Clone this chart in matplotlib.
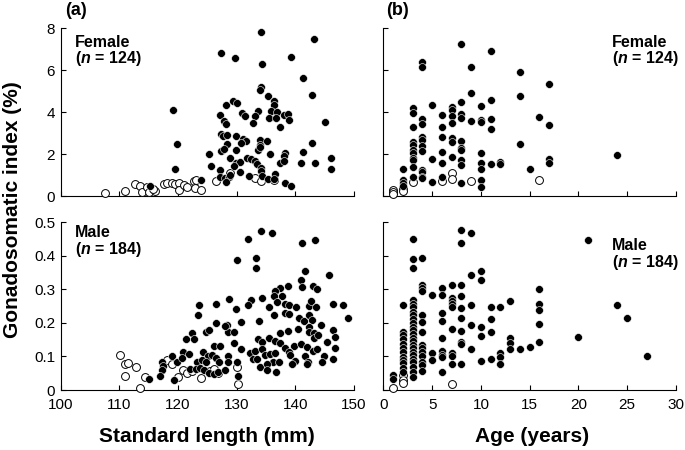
import matplotlib
matplotlib.use('Agg')
import matplotlib.pyplot as plt

plt.rcParams['font.family'] = ['Liberation Sans', 'DejaVu Sans']
plt.rcParams['mathtext.fontset'] = 'custom'
plt.rcParams['mathtext.rm'] = 'Liberation Sans'
plt.rcParams['mathtext.it'] = 'Liberation Sans:italic'
plt.rcParams['mathtext.bf'] = 'Liberation Sans:bold'
plt.rcParams['mathtext.bfit'] = 'Liberation Sans:italic:bold'

# ---------------- Data: (a) female, standard length vs GSI ----------------
fem_sl_mature = [134.1, 143.1, 127.3, 129.7, 139.3, 134.4, 141.3, 142.9, 134.1, 134.0,
                 135.3, 136.4, 136.3, 119.1, 128.1, 129.4, 130.1, 127.1, 130.9, 131.4,
                 133.7, 133.2, 135.8, 136.9, 135.5, 136.7, 138.0, 138.7, 139.0, 137.3,
                 127.8, 128.1, 132.7, 145.1, 127.4, 127.6, 128.3, 129.8, 131.0, 131.6,
                 130.7, 133.9, 135.1, 133.9, 119.9, 128.4, 127.4, 127.8, 129.8, 133.6,
                 133.9, 135.6, 142.9, 138.2, 138.1, 141.3, 125.3, 128.9, 129.9, 130.5,
                 131.7, 132.5, 133.1, 133.5, 129.6, 137.4, 138.0, 141.0, 143.4, 146.1,
                 146.1, 119.5, 125.7, 127.1, 130.5, 134.1, 134.2, 136.6, 127.2, 128.0,
                 128.7, 128.8, 128.2, 132.1, 134.3, 135.4, 136.4, 138.2, 139.3, 123.9,
                 115.3]
fem_gsi_mature = [7.83, 7.48, 6.81, 6.57, 6.62, 6.32, 5.65, 4.81, 5.22, 5.08,
                  4.76, 4.52, 4.37, 4.13, 4.35, 4.54, 4.46, 3.89, 3.98, 3.84,
                  4.08, 3.83, 4.05, 4.02, 3.71, 3.75, 3.86, 3.92, 3.62, 3.30,
                  3.57, 3.46, 3.48, 3.52, 2.97, 2.86, 2.92, 2.89, 2.71, 2.65,
                  2.54, 2.70, 2.62, 2.46, 2.51, 2.51, 2.17, 2.24, 2.19, 2.21,
                  2.35, 2.02, 2.56, 2.06, 1.94, 2.11, 2.00, 1.83, 1.57, 1.65,
                  1.81, 1.76, 1.67, 1.54, 1.44, 1.60, 1.67, 1.60, 1.57, 1.83,
                  1.32, 1.32, 1.44, 1.25, 1.14, 1.35, 1.19, 1.08, 0.90, 0.87,
                  0.92, 1.00, 0.68, 0.98, 0.95, 0.84, 0.83, 0.63, 0.51, 0.78,
                  0.51]
fem_sl_immature = [107.6, 110.9, 112.6, 113.6, 113.9, 114.7, 115.1, 116.0, 115.7, 117.6,
                   118.1, 118.9, 119.5, 120.2, 120.1, 121.0, 121.5, 122.8, 122.9, 124.0,
                   123.0, 126.4, 128.8, 133.1, 134.1, 136.4]
fem_gsi_immature = [0.16, 0.24, 0.59, 0.48, 0.21, 0.44, 0.21, 0.24, 0.37, 0.59,
                    0.63, 0.63, 0.57, 0.63, 0.29, 0.56, 0.43, 0.71, 0.40, 0.32,
                    0.76, 0.73, 1.11, 0.87, 0.73, 0.78]

# ---------------- Data: (a) male, standard length vs GSI ----------------
male_sl_mature = [134.2, 136.1, 131.9, 141.1, 143.3, 130.1, 133.3, 133.3, 141.6, 145.7,
                  140.9, 141.2, 143.0, 143.7, 138.7, 137.4, 136.5, 136.3, 137.7, 128.75,
                  132.5, 134.3, 136.9, 131.9, 129.9, 135.5, 138.2, 138.9, 140.1, 142.3,
                  142.7, 143.5, 146.5, 148.2, 149.0, 136.4, 138.3, 138.9, 140.7, 141.5,
                  142.4, 142.8, 144.4, 146.4, 130.8, 133.8, 140.5, 142.3, 142.4, 143.1,
                  138.8, 137.4, 128.35, 128.6, 129.5, 129.5, 133.6, 134.4, 135.5, 136.5,
                  137.3, 139.7, 141.0, 142.0, 143.1, 143.9, 145.4, 146.7, 146.7, 130.8,
                  132.3, 133.1, 132.7, 133.5, 134.4, 134.9, 135.7, 136.6, 136.2, 137.2,
                  138.2, 138.9, 139.1, 140.0, 139.4, 141.7, 142.2, 142.0, 143.0, 143.7,
                  144.8, 144.5, 146.4, 134.0, 135.2, 135.2, 136.7, 128.5, 128.6, 130.3,
                  123.5, 126.5, 123.4, 126.4, 124.8, 125.3, 128.0, 121.4, 122.3, 122.8,
                  126.1, 127.2, 124.2, 125.1, 125.8, 120.8, 121.9, 123.2, 124.1, 124.7,
                  126.4, 127.0, 118.9, 119.8, 120.7, 117.2, 117.4, 117.2, 116.9, 119.3,
                  115.0, 122.1, 123.0, 123.8, 124.4, 125.2, 126.1, 126.9, 128.0, 130.1]
male_gsi_mature = [0.473, 0.467, 0.449, 0.438, 0.448, 0.389, 0.393, 0.363, 0.355, 0.343,
                   0.327, 0.308, 0.311, 0.301, 0.310, 0.305, 0.295, 0.280, 0.281, 0.271,
                   0.268, 0.274, 0.261, 0.252, 0.242, 0.246, 0.256, 0.254, 0.246, 0.251,
                   0.264, 0.246, 0.257, 0.254, 0.214, 0.224, 0.229, 0.228, 0.214, 0.206,
                   0.224, 0.209, 0.194, 0.178, 0.204, 0.206, 0.181, 0.189, 0.174, 0.171,
                   0.177, 0.169, 0.194, 0.172, 0.172, 0.141, 0.151, 0.144, 0.154, 0.146,
                   0.139, 0.132, 0.138, 0.129, 0.154, 0.164, 0.144, 0.158, 0.124, 0.122,
                   0.109, 0.116, 0.093, 0.093, 0.121, 0.104, 0.108, 0.109, 0.085, 0.085,
                   0.124, 0.114, 0.104, 0.087, 0.077, 0.100, 0.085, 0.077, 0.116, 0.121,
                   0.100, 0.085, 0.093, 0.070, 0.077, 0.060, 0.053, 0.100, 0.085, 0.042,
                   0.254, 0.256, 0.224, 0.199, 0.174, 0.179, 0.191, 0.152, 0.169, 0.152,
                   0.132, 0.130, 0.112, 0.100, 0.104, 0.112, 0.106, 0.085, 0.090, 0.085,
                   0.095, 0.085, 0.100, 0.083, 0.095, 0.085, 0.073, 0.059, 0.042, 0.030,
                   0.033, 0.063, 0.063, 0.067, 0.060, 0.050, 0.047, 0.055, 0.060, 0.085]
male_sl_immature = [110.1, 111.0, 111.5, 112.8, 111.0, 113.5, 114.4, 118.1, 119.0, 120.0,
                    120.8, 121.5, 122.4, 124.0, 125.5, 126.1, 126.9, 130.1, 130.3]
male_gsi_immature = [0.104, 0.077, 0.080, 0.070, 0.043, 0.005, 0.040, 0.088, 0.077, 0.040,
                     0.060, 0.050, 0.057, 0.035, 0.057, 0.063, 0.050, 0.069, 0.018]

# ---------------- Data: (b) female, age vs GSI ----------------
fem_age_mature = [2, 2, 2, 2,
                  3, 3, 3, 3, 3, 3, 3, 3, 3, 3, 3,
                  4, 4, 4, 4, 4, 4, 4, 4, 4, 4, 4, 4,
                  5, 5, 5,
                  6, 6, 6, 6, 6, 6,
                  7, 7, 7, 7, 7, 7, 7,
                  8, 8, 8, 8, 8, 8, 8, 8, 8, 8,
                  9, 9, 9,
                  10, 10, 10, 10, 10, 10, 10, 10,
                  11, 11, 11, 11, 11,
                  12, 12,
                  14, 14, 14,
                  15,
                  16,
                  17, 17, 17, 17,
                  24]
fem_gsi_age_mature = [1.29, 0.78, 0.65, 0.49,
                      4.19, 3.95, 3.32, 2.57, 2.44, 2.21, 2.05, 1.81, 1.73, 1.41, 0.94,
                      6.38, 6.17, 3.67, 3.43, 2.84, 2.68, 2.41, 2.16, 1.25, 1.17, 0.94, 0.86,
                      4.35, 1.78, 0.67,
                      3.87, 3.32, 2.81, 2.13, 1.57, 0.94,
                      4.27, 4.11, 3.84, 3.48, 2.76, 2.57, 1.89,
                      7.24, 4.51, 3.90, 3.71, 2.63, 2.32, 2.21, 1.73, 1.49, 0.62,
                      6.17, 4.94, 3.59,
                      4.30, 3.63, 3.52, 2.05, 1.57, 1.30, 0.78, 0.46,
                      6.94, 4.57, 3.68, 3.19, 1.52,
                      1.65, 1.52,
                      5.92, 4.79, 2.49,
                      1.29,
                      3.78,
                      5.33, 3.40, 1.78, 1.57,
                      1.97]
fem_age_immature = [1, 1, 1, 2, 2, 3, 6, 7, 7, 9, 16]
fem_gsi_age_immature = [0.32, 0.22, 0.12, 0.38, 0.25, 0.70, 0.73, 1.12, 0.83, 0.73, 0.78]

# ---------------- Data: (b) male, age vs GSI ----------------
male_age_mature = [1, 1,
                   2, 2, 2, 2, 2, 2, 2, 2, 2, 2, 2, 2,
                   3, 3, 3, 3, 3, 3, 3, 3, 3, 3, 3, 3, 3, 3, 3, 3, 3, 3, 3, 3, 3, 3, 3, 3,
                   4, 4, 4, 4, 4, 4, 4, 4, 4, 4, 4, 4, 4, 4,
                   5, 5, 5,
                   6, 6, 6, 6, 6, 6, 6, 6, 6,
                   7, 7, 7, 7, 7, 7, 7, 7, 7,
                   8, 8, 8, 8, 8, 8, 8, 8, 8, 8,
                   9, 9, 9, 9, 9,
                   10, 10, 10, 10, 10,
                   11, 11, 11, 11,
                   12, 12, 12, 12,
                   13, 13, 13, 13,
                   14, 15,
                   16, 16, 16, 16, 16,
                   20, 21, 24, 25, 27]
male_gsi_age_mature = [0.045, 0.033,
                       0.254, 0.174, 0.164, 0.152, 0.136, 0.125, 0.112, 0.098, 0.090, 0.080, 0.065, 0.055,
                       0.450, 0.390, 0.363, 0.269, 0.256, 0.246, 0.234, 0.224, 0.212, 0.199, 0.189, 0.179,
                       0.166, 0.156, 0.146, 0.134, 0.124, 0.114, 0.104, 0.093, 0.083, 0.070, 0.055, 0.040,
                       0.393, 0.313, 0.305, 0.294, 0.224, 0.202, 0.174, 0.134, 0.124, 0.114, 0.100, 0.085, 0.075, 0.057,
                       0.282, 0.109, 0.089,
                       0.305, 0.284, 0.229, 0.206, 0.156, 0.116, 0.104, 0.097, 0.053,
                       0.313, 0.274, 0.264, 0.256, 0.246, 0.182, 0.109, 0.102, 0.077,
                       0.476, 0.438, 0.313, 0.280, 0.244, 0.214, 0.176, 0.144, 0.136, 0.077,
                       0.467, 0.343, 0.254, 0.194, 0.122,
                       0.355, 0.327, 0.189, 0.162, 0.087,
                       0.246, 0.211, 0.174, 0.092,
                       0.246, 0.109, 0.097, 0.077,
                       0.264, 0.154, 0.139, 0.122,
                       0.122, 0.129,
                       0.301, 0.257, 0.239, 0.196, 0.144,
                       0.158, 0.448, 0.254, 0.214, 0.100]
male_age_immature = [1, 2, 2, 2, 7]
male_gsi_age_immature = [0.007, 0.045, 0.030, 0.022, 0.017]

sl_ticks = [100, 110, 120, 130, 140, 150]
age_ticks = [0, 5, 10, 15, 20, 25, 30]
fem_yticks = [0, 2, 4, 6, 8]
male_yticks = [0, 0.1, 0.2, 0.3, 0.4, 0.5]
male_yticklabels = ['0', '0.1', '0.2', '0.3', '0.4', '0.5']

# ---------------- Figure ----------------
fig = plt.figure(figsize=(6.85, 4.5), dpi=100)
ax_a1 = fig.add_axes([0.0886, 0.5638, 0.4282, 0.3733])
ax_a2 = fig.add_axes([0.0886, 0.1333, 0.4282, 0.3727])
ax_b1 = fig.add_axes([0.5596, 0.5638, 0.4273, 0.3733])
ax_b2 = fig.add_axes([0.5596, 0.1333, 0.4273, 0.3727])

open_kw = dict(s=32, facecolor='white', edgecolor='black', linewidth=0.7, clip_on=False, zorder=3)
fill_kw = dict(s=32, facecolor='black', edgecolor='white', linewidth=0.4, clip_on=False, zorder=4)

ax_a1.scatter(fem_sl_immature, fem_gsi_immature, **open_kw)
ax_a1.scatter(fem_sl_mature, fem_gsi_mature, **fill_kw)
ax_a2.scatter(male_sl_immature, male_gsi_immature, **open_kw)
ax_a2.scatter(male_sl_mature, male_gsi_mature, **fill_kw)
ax_b1.scatter(fem_age_immature, fem_gsi_age_immature, **open_kw)
ax_b1.scatter(fem_age_mature, fem_gsi_age_mature, **fill_kw)
ax_b2.scatter(male_age_immature, male_gsi_age_immature, **open_kw)
ax_b2.scatter(male_age_mature, male_gsi_age_mature, **fill_kw)

for ax in (ax_a1, ax_a2, ax_b1, ax_b2):
    ax.spines['top'].set_visible(False)
    ax.spines['right'].set_visible(False)
    for sp in ('left', 'bottom'):
        ax.spines[sp].set_linewidth(0.8)
    ax.tick_params(direction='in', length=3.5, width=0.8, labelsize=11)
    ax.tick_params(axis='x', pad=6)
    ax.tick_params(axis='y', pad=4)

for ax in (ax_a1, ax_a2):
    ax.set_xlim(100, 150)
    ax.set_xticks(sl_ticks)
for ax in (ax_b1, ax_b2):
    ax.set_xlim(0, 30)
    ax.set_xticks(age_ticks)
    ax.tick_params(labelleft=False)
for ax in (ax_a1, ax_b1):
    ax.set_ylim(0, 8)
    ax.set_yticks(fem_yticks)
    ax.tick_params(labelbottom=False)
for ax in (ax_a2, ax_b2):
    ax.set_ylim(0, 0.5)
    ax.set_yticks(male_yticks)
ax_a2.set_yticklabels(male_yticklabels)

W, H = 685.0, 450.0
def ft(x, y, s, **kw):
    fig.text(x / W, 1 - y / H, s, **kw)

ft(65, 15, '(a)', fontsize=13, fontweight='bold', va='baseline')
ft(386, 15, '(b)', fontsize=13, fontweight='bold', va='baseline')

lab = dict(fontsize=11.5, fontweight='bold', va='baseline')
ft(75, 47, 'Female', **lab)
ft(75, 63, r'($\mathbfit{n}$ = 124)', **lab)
ft(612, 47, 'Female', **lab)
ft(612, 63, r'($\mathbfit{n}$ = 124)', **lab)
ft(75, 237, 'Male', **lab)
ft(75, 254, r'($\mathbfit{n}$ = 184)', **lab)
ft(612, 250, 'Male', **lab)
ft(612, 267, r'($\mathbfit{n}$ = 184)', **lab)

ft(13, 210, 'Gonadosomatic index (%)', fontsize=15, fontweight='bold',
   rotation=90, ha='center', va='center')
ft(207, 437, 'Standard length (mm)', fontsize=15, fontweight='bold', ha='center', va='center')
ft(532, 437, 'Age (years)', fontsize=15, fontweight='bold', ha='center', va='center')

fig.savefig('out.png', dpi=100)
